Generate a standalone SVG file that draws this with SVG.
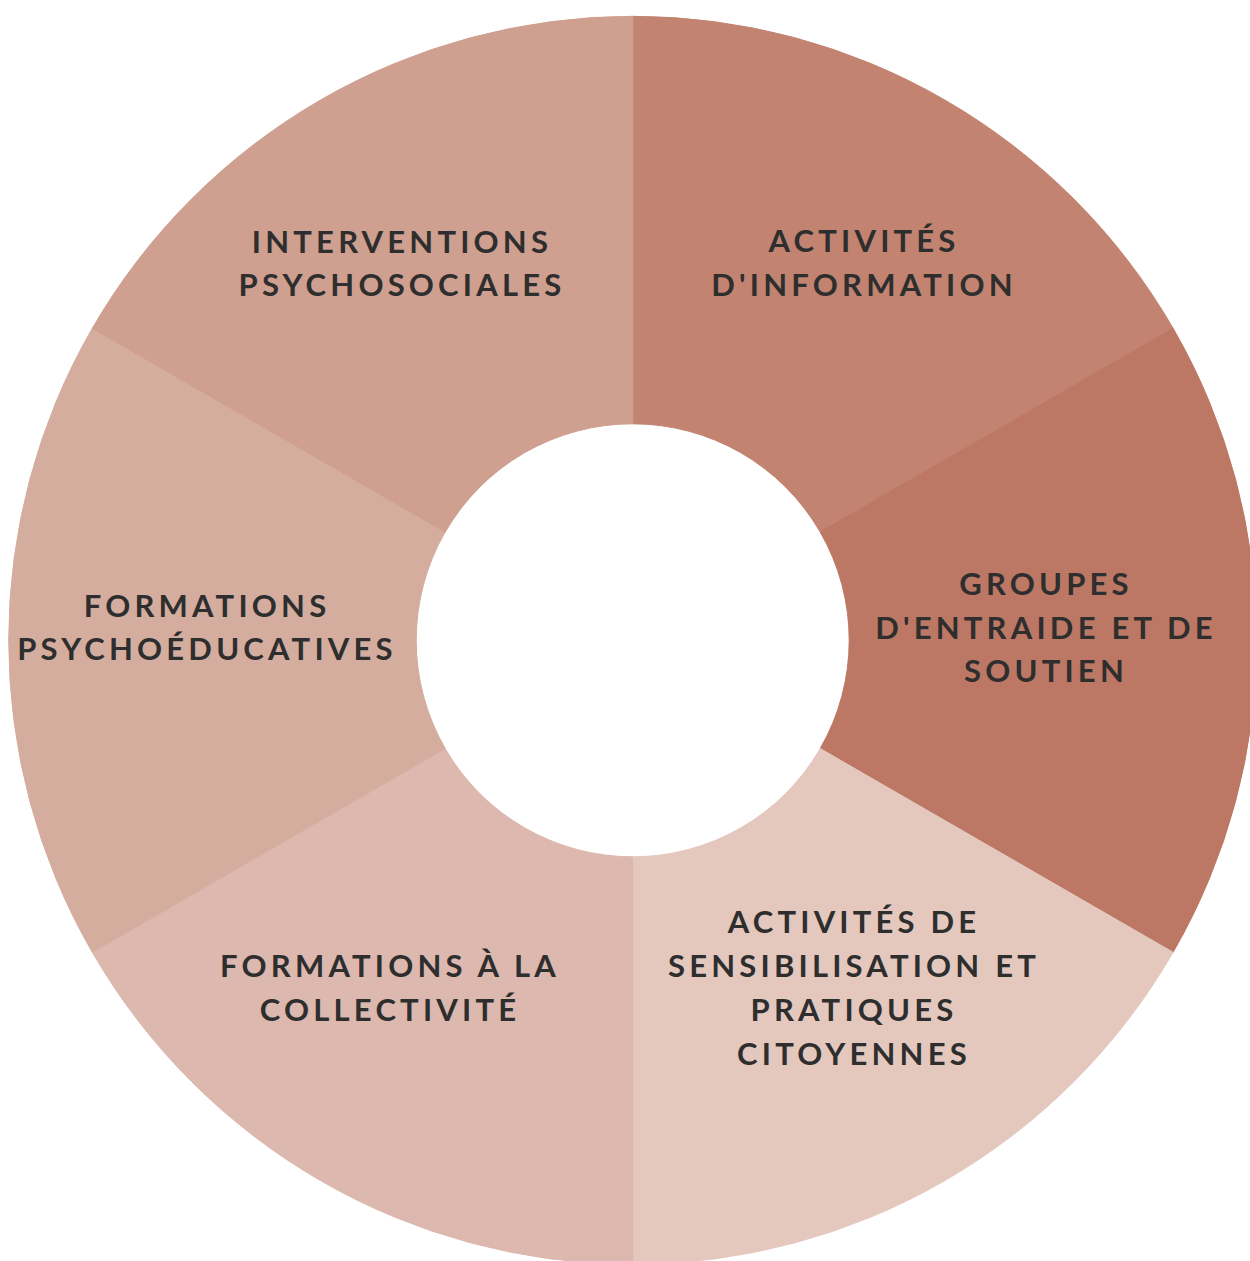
<svg xmlns="http://www.w3.org/2000/svg" width="1250" height="1261" viewBox="0 0 1250 1261">
  <style>
    .seg { stroke-width: 1; }
    .lbl { font-family: Lato, "Noto Sans", "DejaVu Sans", sans-serif; font-weight: 700; font-size: 31px; letter-spacing: 4.2px; fill: #2e2e2e; text-anchor: middle; }
  </style>
  <rect width="1250" height="1261" fill="#ffffff"/>

  <!-- ring centred at (632.7, 640.3), outer radius 624, inner radius 216.5 -->
  <g id="seg-information">
    <path class="seg" fill="#c28371" stroke="#c28371" d="M632.7 16.3 A624 624 0 0 1 1173.1 328.3 L820.19 532.05 A216.5 216.5 0 0 0 632.7 423.8 Z"/>
    <text class="lbl" x="864" y="252">ACTIVITÉS</text>
    <text class="lbl" x="864" y="296">D'INFORMATION</text>
  </g>

  <g id="seg-entraide">
    <path class="seg" fill="#bc7864" stroke="#bc7864" d="M1173.1 328.3 A624 624 0 0 1 1173.1 952.3 L820.19 748.55 A216.5 216.5 0 0 0 820.19 532.05 Z"/>
    <text class="lbl" x="1046" y="595">GROUPES</text>
    <text class="lbl" x="1046" y="639">D'ENTRAIDE ET DE</text>
    <text class="lbl" x="1046" y="682">SOUTIEN</text>
  </g>

  <g id="seg-sensibilisation">
    <path class="seg" fill="#e4c8be" stroke="#e4c8be" d="M1173.1 952.3 A624 624 0 0 1 632.7 1264.3 L632.7 856.8 A216.5 216.5 0 0 0 820.19 748.55 Z"/>
    <text class="lbl" x="854" y="933">ACTIVITÉS DE</text>
    <text class="lbl" x="854" y="977">SENSIBILISATION ET</text>
    <text class="lbl" x="854" y="1021">PRATIQUES</text>
    <text class="lbl" x="854" y="1065">CITOYENNES</text>
  </g>

  <g id="seg-collectivite">
    <path class="seg" fill="#dcb8ae" stroke="#dcb8ae" d="M632.7 1264.3 A624 624 0 0 1 92.3 952.3 L445.21 748.55 A216.5 216.5 0 0 0 632.7 856.8 Z"/>
    <text class="lbl" x="390" y="977">FORMATIONS À LA</text>
    <text class="lbl" x="390" y="1021">COLLECTIVITÉ</text>
  </g>

  <g id="seg-psychoeducatives">
    <path class="seg" fill="#d5ad9f" stroke="#d5ad9f" d="M92.3 952.3 A624 624 0 0 1 92.3 328.3 L445.21 532.05 A216.5 216.5 0 0 0 445.21 748.55 Z"/>
    <text class="lbl" x="207" y="617">FORMATIONS</text>
    <text class="lbl" x="207" y="660">PSYCHOÉDUCATIVES</text>
  </g>

  <g id="seg-psychosociales">
    <path class="seg" fill="#cf9f8f" stroke="#cf9f8f" d="M92.3 328.3 A624 624 0 0 1 632.7 16.3 L632.7 423.8 A216.5 216.5 0 0 0 445.21 532.05 Z"/>
    <text class="lbl" x="402" y="253">INTERVENTIONS</text>
    <text class="lbl" x="402" y="296">PSYCHOSOCIALES</text>
  </g>

  <!-- the diagram has no connectors -->
  <g id="connectors"/>
</svg>
